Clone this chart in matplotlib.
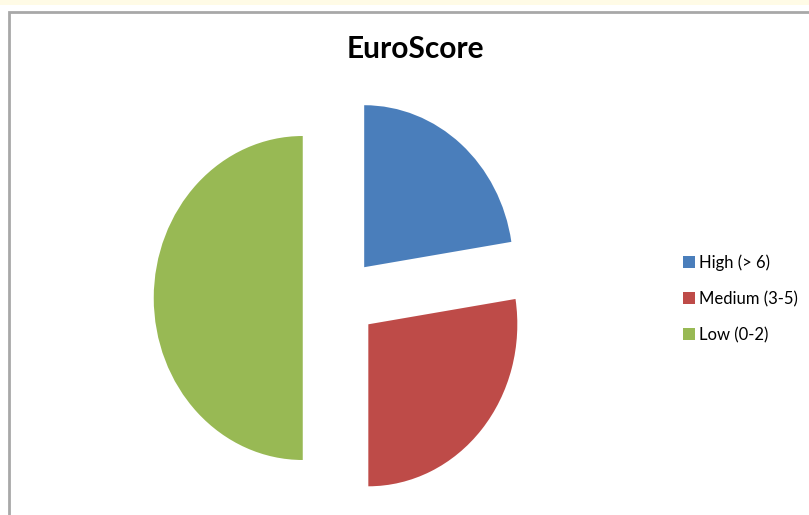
import matplotlib
matplotlib.use("Agg")
import matplotlib.pyplot as plt
from matplotlib.patches import Rectangle

categories = ["High (> 6)", "Medium (3-5)", "Low (0-2)"]
values = [22.5, 27.5, 50.0]
colors = ["#4a7ebb", "#be4b48", "#98b954"]
title = "EuroScore"

W, H = 809, 515
fig = plt.figure(figsize=(W / 100, H / 100), dpi=100)
fig.patch.set_facecolor("white")

# top light-yellow strip and chart-area border
fig.patches.append(Rectangle((0, 1 - 5 / H), 1, 5 / H, transform=fig.transFigure,
                             facecolor="#fffbe6", edgecolor="none", zorder=-10))
fig.patches.append(Rectangle((9 / W, -0.1), 1.2, 1 - 12 / H + 0.1, transform=fig.transFigure,
                             facecolor="white", edgecolor="#a8a8a8", linewidth=2, zorder=-10))

cx, cy = 340, 298
rx, ry = 149, 162
aw, ah = 400, 400
ax = fig.add_axes([(cx - aw / 2) / W, (H - cy - ah / 2) / H, aw / W, ah / H])
ax.set_zorder(5)
ax.patch.set_alpha(0)
wedges, _ = ax.pie(values, colors=colors, startangle=90, counterclock=False,
                   explode=[0.25] * 3, wedgeprops=dict(linewidth=0))
ax.set_aspect("auto")
ax.set_xlim(-aw / 2 / rx, aw / 2 / rx)
ax.set_ylim(-ah / 2 / ry, ah / 2 / ry)
ax.axis("off")

fig.text(415 / W, 1 - 49 / H, title, ha="center", va="center",
         fontsize=21.5, fontweight="bold", family="Lato", color="#000000")

leg = fig.legend(wedges, categories, loc="upper left",
                 bbox_to_anchor=(675 / W, 1 - 246 / H), frameon=False,
                 prop={"family": "Lato", "size": 12},
                 handlelength=0.7, handleheight=0.7, handletextpad=0.25,
                 labelspacing=1.2, borderpad=0)

fig.savefig("out.png", dpi=100)
